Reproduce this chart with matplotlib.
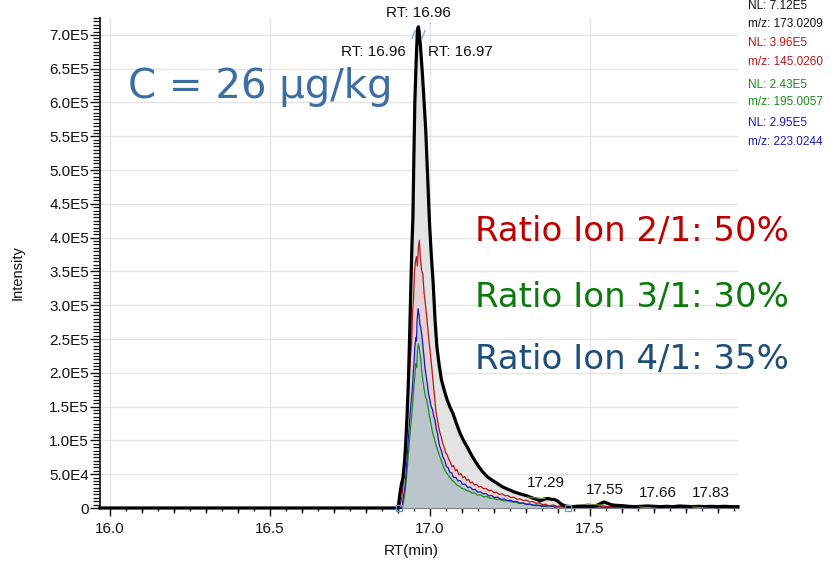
import numpy as np
import matplotlib
matplotlib.use("Agg")
import matplotlib.pyplot as plt
from matplotlib.ticker import MultipleLocator, FixedLocator

plt.rcParams['font.family'] = ['Liberation Sans', 'DejaVu Sans']

# ---------------- data (RT in min, intensity in counts) ----------------
ion1_trace = [
    (15.969, 0), (16.900, 0), (16.903, 8000), (16.906, 20000), (16.911, 35000), (16.916, 45000),
    (16.921, 70000), (16.925, 100000), (16.929, 140000), (16.933, 190000), (16.937, 260000),
    (16.941, 337000), (16.944, 390000), (16.947, 430000), (16.950, 520000), (16.953, 600000),
    (16.957, 660000), (16.961, 707000), (16.964, 712000), (16.967, 703000), (16.971, 680000),
    (16.977, 640000), (16.982, 600000), (16.987, 560000), (16.993, 490000), (16.999, 420000),
    (17.005, 370000), (17.010, 335000), (17.016, 280000), (17.022, 238000), (17.029, 212000),
    (17.036, 190000), (17.045, 174000), (17.054, 160000), (17.063, 149000), (17.072, 140000),
    (17.083, 125000), (17.094, 111000), (17.105, 100000), (17.117, 90000), (17.128, 80000),
    (17.140, 70500), (17.153, 61000), (17.166, 53000), (17.180, 46000), (17.195, 41000),
    (17.210, 36500), (17.228, 31000), (17.245, 27500), (17.262, 24000), (17.281, 21000),
    (17.300, 18500), (17.320, 15000), (17.335, 12500), (17.345, 10500), (17.352, 12000),
    (17.360, 13500), (17.370, 14000), (17.380, 12800), (17.390, 12500), (17.400, 10000),
    (17.410, 6000), (17.420, 3500), (17.430, 2500), (17.445, 2000), (17.460, 2500),
    (17.480, 3000), (17.500, 2500), (17.520, 3500), (17.535, 7000), (17.545, 9000),
    (17.555, 7000), (17.565, 5000), (17.580, 4000), (17.600, 3500), (17.620, 2500),
    (17.640, 2000), (17.660, 2500), (17.680, 3000), (17.700, 2500), (17.720, 2000),
    (17.740, 2500), (17.760, 2000), (17.780, 3000), (17.800, 2500), (17.820, 2000),
    (17.840, 2500), (17.860, 2000), (17.880, 2500), (17.900, 2000), (17.920, 2500),
    (17.940, 2000), (17.963, 2000),
]

ion2_trace = [
    (15.969, 0), (16.905, 0), (16.912, 15000), (16.918, 40000), (16.924, 80000), (16.929, 130000),
    (16.933, 170000), (16.938, 215000), (16.943, 245000), (16.946, 290000), (16.949, 310000),
    (16.952, 350000), (16.955, 365000), (16.958, 372000), (16.961, 358000), (16.964, 385000),
    (16.967, 396000), (16.970, 372000), (16.974, 352000), (16.978, 346000), (16.982, 318000),
    (16.986, 302000), (16.990, 284000), (16.995, 258000), (17.000, 236000), (17.005, 212000),
    (17.009, 192000), (17.014, 168000), (17.019, 143000), (17.023, 132000), (17.027, 121000),
    (17.031, 112000), (17.036, 104000), (17.040, 96000), (17.044, 91000), (17.049, 82000),
    (17.054, 79000), (17.059, 72000), (17.064, 68000), (17.069, 61000), (17.074, 63000),
    (17.080, 55000), (17.085, 57000), (17.091, 49000), (17.097, 51000), (17.103, 45000),
    (17.109, 46500), (17.115, 41000), (17.121, 42500), (17.127, 37000), (17.133, 38500),
    (17.139, 34000), (17.146, 35000), (17.153, 31000), (17.160, 32000), (17.168, 28500),
    (17.176, 29000), (17.184, 25500), (17.192, 26500), (17.200, 22500), (17.208, 23500),
    (17.217, 20000), (17.226, 21000), (17.235, 18000), (17.244, 18500), (17.253, 15500),
    (17.262, 16000), (17.272, 13000), (17.282, 13500), (17.292, 11000), (17.302, 11500),
    (17.312, 9000), (17.322, 9500), (17.332, 7000), (17.342, 7500), (17.352, 5000),
    (17.362, 5500), (17.372, 3000), (17.385, 4500), (17.400, 2000), (17.420, 3500),
    (17.440, 1500), (17.460, 4000), (17.480, 1500), (17.500, 3000), (17.520, 1000),
    (17.540, 3500), (17.560, 1500), (17.580, 3000), (17.600, 1000), (17.620, 2500),
    (17.640, 1000), (17.660, 3000), (17.680, 1000), (17.700, 2500), (17.720, 1000),
    (17.740, 3000), (17.760, 1000), (17.780, 2500), (17.800, 1000), (17.820, 3000),
    (17.840, 1000), (17.860, 2500), (17.880, 1000), (17.900, 2500), (17.920, 1000),
    (17.940, 2000), (17.963, 1000),
]

ion3_trace = [
    (15.969, 0), (16.914, 0), (16.920, 15000), (16.926, 40000), (16.932, 75000), (16.938, 110000),
    (16.942, 130000), (16.946, 152000), (16.950, 180000), (16.953, 195000), (16.956, 214000),
    (16.959, 208000), (16.961, 232000), (16.964, 243000), (16.967, 236000), (16.970, 226000),
    (16.974, 205000), (16.978, 189000), (16.982, 176000), (16.986, 165000), (16.990, 160000),
    (16.994, 150000), (16.998, 138000), (17.002, 128000), (17.006, 118000), (17.009, 110000),
    (17.014, 103000), (17.019, 93000), (17.024, 86000), (17.031, 76000), (17.036, 70000),
    (17.042, 61000), (17.048, 55000), (17.055, 50000), (17.062, 46000), (17.069, 41000),
    (17.076, 38500), (17.084, 34000), (17.092, 32500), (17.100, 29000), (17.108, 28000),
    (17.116, 25500), (17.124, 25000), (17.132, 22000), (17.140, 22500), (17.149, 19000),
    (17.158, 19500), (17.168, 16500), (17.178, 17000), (17.188, 14500), (17.198, 14500),
    (17.208, 12500), (17.218, 12800), (17.230, 10500), (17.242, 11000), (17.254, 9000),
    (17.266, 9200), (17.278, 7000), (17.290, 7200), (17.302, 5200), (17.314, 5500),
    (17.328, 3500), (17.345, 4000), (17.365, 2000), (17.385, 3000), (17.410, 1000),
    (17.440, 2500), (17.470, 800), (17.500, 2000), (17.550, 800), (17.600, 1500),
    (17.650, 500), (17.700, 1200), (17.750, 500), (17.800, 1000), (17.850, 500),
    (17.900, 1000), (17.963, 500),
]

ion4_trace = [
    (15.969, 0), (16.912, 0), (16.917, 15000), (16.922, 31000), (16.927, 60000), (16.931, 90000),
    (16.936, 125000), (16.940, 150000), (16.943, 165000), (16.946, 182000), (16.948, 200000),
    (16.951, 218000), (16.953, 238000), (16.956, 252000), (16.958, 247000), (16.960, 278000),
    (16.963, 295000), (16.966, 286000), (16.969, 272000), (16.972, 266000), (16.975, 255000),
    (16.979, 236000), (16.982, 222000), (16.984, 210000), (16.988, 196000), (16.992, 184000),
    (16.996, 168000), (17.000, 160000), (17.004, 150000), (17.008, 146000), (17.012, 136000),
    (17.016, 130000), (17.020, 117000), (17.024, 110000), (17.028, 97000), (17.031, 91000),
    (17.036, 85000), (17.041, 75000), (17.046, 71000), (17.052, 61000), (17.057, 60000),
    (17.062, 53000), (17.068, 52000), (17.074, 45000), (17.081, 45500), (17.088, 40000),
    (17.095, 40500), (17.102, 35000), (17.110, 35500), (17.118, 30500), (17.126, 31000),
    (17.134, 27000), (17.142, 27500), (17.150, 23500), (17.158, 24000), (17.166, 21000),
    (17.175, 21500), (17.184, 18000), (17.193, 18500), (17.202, 15500), (17.212, 16000),
    (17.222, 13000), (17.232, 13500), (17.242, 11000), (17.252, 11500), (17.262, 9000),
    (17.272, 9500), (17.282, 7000), (17.292, 7500), (17.302, 5500), (17.312, 6000),
    (17.322, 4000), (17.335, 4500), (17.350, 2500), (17.370, 3500), (17.390, 1500),
    (17.410, 3000), (17.430, 1000), (17.450, 2500), (17.470, 1000), (17.490, 2000),
    (17.510, 800), (17.530, 2000), (17.550, 800), (17.580, 1500), (17.610, 500),
    (17.650, 1500), (17.700, 500), (17.750, 1200), (17.800, 500), (17.850, 1200),
    (17.900, 500), (17.963, 800),
]

x_ticks = [16.0, 16.5, 17.0, 17.5]
x_tick_labels = ["16.0", "16.5", "17.0", "17.5"]
y_ticks = [0, 50000, 100000, 150000, 200000, 250000, 300000, 350000,
           400000, 450000, 500000, 550000, 600000, 650000, 700000]
y_tick_labels = ["0", "5.0E4", "1.0E5", "1.5E5", "2.0E5", "2.5E5", "3.0E5", "3.5E5",
                 "4.0E5", "4.5E5", "5.0E5", "5.5E5", "6.0E5", "6.5E5", "7.0E5"]

peak_labels = ["RT: 16.96", "RT: 16.96", "RT: 16.97"]
minor_peak_labels = ["17.29", "17.55", "17.66", "17.83"]
minor_peak_label_pos = [(17.3615, 37000), (17.547, 27000), (17.713, 22500), (17.878, 22500)]
peak_bounds = [16.902, 17.432]

nl_labels = [("NL: 7.12E5", "m/z: 173.0209"), ("NL: 3.96E5", "m/z: 145.0260"),
             ("NL: 2.43E5", "m/z: 195.0057"), ("NL: 2.95E5", "m/z: 223.0244")]
ion_colors = ["#111111", "#b3191e", "#1d8a1d", "#1a1ab0"]
ratio_texts = ["Ratio Ion 2/1: 50%", "Ratio Ion 3/1: 30%", "Ratio Ion 4/1: 35%"]
ratio_colors = ["#c00000", "#0e780e", "#1f4e79"]
conc_text = "C = 26 µg/kg"

# ---------------- figure ----------------
W, H = 836, 562
fig = plt.figure(figsize=(W / 100, H / 100), dpi=100)
ax = fig.add_axes([100 / W, 54 / H, 638 / W, 490 / H])
ax.set_xlim(15.969, 17.963)
ax.set_ylim(0, 725000)

def unpack(tr):
    a = np.array(tr, dtype=float)
    return a[:, 0], a[:, 1]

r1, i1 = unpack(ion1_trace)
r2, i2 = unpack(ion2_trace)
r3, i3 = unpack(ion3_trace)
r4, i4 = unpack(ion4_trace)

ax.fill_between(r1, i1, 0, color="#e3e3e3", lw=0, zorder=1)
ax.fill_between(r2, i2, 0, color="#e6d2d5", lw=0, zorder=2)
ax.fill_between(r4, i4, 0, color="#c3cad5", lw=0, zorder=3)
ax.fill_between(r3, i3, 0, color="#b7c4c6", alpha=0.6, lw=0, zorder=3.5)

ax.plot(r3, i3, color=ion_colors[2], lw=0.9, zorder=4)
ax.plot(r4, i4, color=ion_colors[3], lw=0.9, zorder=5)
ax.plot(r2, i2, color=ion_colors[1], lw=0.9, zorder=6)
ax.plot(r1, i1, color="black", lw=2.3, zorder=7, clip_on=False, solid_joinstyle="round")

# peak bound markers
ax.plot(peak_bounds, [0, 0], ls="none", marker="s", ms=4, mfc="none", mec="#5b9bd5",
        mew=0.9, zorder=8, clip_on=False)

# peak apex and labels
k = int(np.argmax(i1))
pk_rt, pk_i = r1[k], i1[k]
ax.plot([pk_rt - 0.016, pk_rt + 0.016], [pk_i * 0.985, pk_i * 0.985], ls="none",
        marker=(2, 0, -20), ms=7, color="#7fb0dd", mew=1.0, zorder=8, clip_on=False)
ax.annotate(peak_labels[0], (pk_rt, pk_i), xytext=(0, 10), textcoords="offset points",
            ha="center", va="center", fontsize=11, color="#111111", zorder=9)
ax.annotate(peak_labels[1], (pk_rt, pk_i), xytext=(-32.5, -18), textcoords="offset points",
            ha="center", va="center", fontsize=11, color="#111111", zorder=9)
ax.annotate(peak_labels[2], (pk_rt, pk_i), xytext=(30, -18), textcoords="offset points",
            ha="center", va="center", fontsize=11, color="#111111", zorder=9)

for lab, (lx, ly) in zip(minor_peak_labels, minor_peak_label_pos):
    ax.text(lx, ly, lab, ha="center", va="center", fontsize=11, color="#111111", zorder=9)
    ax.plot([lx - 0.057, lx - 0.002], [ly - 21000, ly - 23000], color="#6b8e23", lw=0.8, zorder=8)

# grid / ticks
ax.set_xticks(x_ticks)
ax.set_xticklabels(x_tick_labels)
ax.set_yticks(y_ticks)
ax.set_yticklabels(y_tick_labels)
ax.xaxis.set_minor_locator(MultipleLocator(0.05))
ax.yaxis.set_minor_locator(MultipleLocator(5000))
ax.grid(True, which="major", color="#e4e4e4", lw=1.0, zorder=0)
ax.set_axisbelow(True)
ax.tick_params(axis="x", which="major", length=5.5, width=1.0, pad=4.5, labelsize=11, colors="#111111")
ax.tick_params(axis="x", which="minor", length=2.2, width=1.0, colors="#111111")
ax.tick_params(axis="y", which="major", length=7, width=1.0, pad=1, labelsize=11, colors="#111111")
ax.tick_params(axis="y", which="minor", length=5, width=0.9, colors="#111111")

sec = ax.secondary_xaxis("bottom")
sec.xaxis.set_major_locator(FixedLocator([16.1, 16.2, 16.3, 16.4, 16.6, 16.7, 16.8, 16.9,
                                           17.1, 17.2, 17.3, 17.4, 17.6, 17.7, 17.8, 17.9]))
sec.tick_params(length=3.6, width=1.0, labelbottom=False, colors="#111111")
sec.spines["bottom"].set_visible(False)

for s in ["top", "right"]:
    ax.spines[s].set_visible(False)
ax.spines["left"].set_linewidth(1.2)
ax.spines["bottom"].set_linewidth(1.5)
ax.spines["left"].set_color("#111111")
ax.spines["bottom"].set_color("#111111")

ax.set_ylabel("Intensity", fontsize=10.5, color="#111111")
ax.yaxis.set_label_coords(-0.118, 0.48)
ax.set_xlabel("RT(min)", fontsize=11, color="#111111")
ax.xaxis.set_label_coords(0.4875, -0.073)

# right-side NL labels
nl_y = [6, 24, 43, 62, 85, 102, 123, 142]
for j, (a, b) in enumerate(nl_labels):
    fig.text(748 / W, 1 - nl_y[2 * j] / H, a, fontsize=8.5, color=ion_colors[j], ha="left", va="center")
    fig.text(748 / W, 1 - nl_y[2 * j + 1] / H, b, fontsize=8.5, color=ion_colors[j], ha="left", va="center")

# big annotation texts
fig.text(128 / W, 1 - 87 / H, conc_text, fontsize=29, color="#3d6ea3", ha="left", va="center",
         family="DejaVu Sans")
ratio_y = [232, 297, 360]
for t, c, yy in zip(ratio_texts, ratio_colors, ratio_y):
    fig.text(475 / W, 1 - yy / H, t, fontsize=24.5, color=c, ha="left", va="center",
             family="DejaVu Sans")

fig.savefig("out.png", dpi=100)
